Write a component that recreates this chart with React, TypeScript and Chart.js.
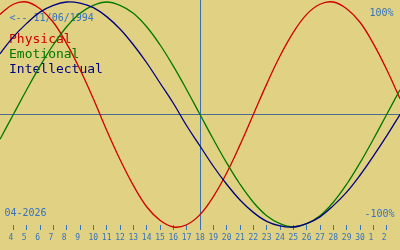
import React, { useEffect, useRef } from 'react';
import { Chart, registerables } from 'chart.js';

Chart.register(...registerables);

// Days of April 2026 shown (31 = May 1, 32 = May 2, 33 = May 3)
const days = [3, 4, 5, 6, 7, 8, 9, 10, 11, 12, 13, 14, 15, 16, 17, 18, 19, 20, 21, 22, 23, 24, 25, 26, 27, 28, 29, 30, 31, 32, 33];

const physical = [0.89, 0.98, 1.0, 0.94, 0.82, 0.63, 0.4, 0.14, -0.14, -0.4, -0.63, -0.82, -0.94, -1.0, -0.98, -0.89, -0.73, -0.52, -0.27, 0, 0.27, 0.52, 0.73, 0.89, 0.98, 1.0, 0.94, 0.82, 0.63, 0.4, 0.14];
const emotional = [-0.22, 0, 0.22, 0.43, 0.62, 0.78, 0.9, 0.97, 1.0, 0.97, 0.9, 0.78, 0.62, 0.43, 0.22, 0, -0.22, -0.43, -0.62, -0.78, -0.9, -0.97, -1.0, -0.97, -0.9, -0.78, -0.62, -0.43, -0.22, 0, 0.22];
const intellectual = [0.54, 0.69, 0.81, 0.91, 0.97, 1.0, 0.99, 0.95, 0.87, 0.76, 0.62, 0.46, 0.28, 0.1, -0.1, -0.28, -0.46, -0.62, -0.76, -0.87, -0.95, -0.99, -1.0, -0.97, -0.91, -0.81, -0.69, -0.54, -0.37, -0.19, 0];

const tickDays = [4, 5, 6, 7, 8, 9, 10, 11, 12, 13, 14, 15, 16, 17, 18, 19, 20, 21, 22, 23, 24, 25, 26, 27, 28, 29, 30, 31, 32];
const tickLabels = ['4', '5', '6', '7', '8', '9', '10', '11', '12', '13', '14', '15', '16', '17', '18', '19', '20', '21', '22', '23', '24', '25', '26', '27', '28', '29', '30', '1', '2'];

const seriesNames = ['Physical', 'Emotional', 'Intellectual'];
const seriesColors = ['#d00000', '#007800', '#000080'];

const todayDay = 18;
const birthLabel = '<-- 11/06/1994';
const monthLabel = '04-2026';
const maxLabel = '100%';
const minLabel = '-100%';

const BG = '#e0d282';
const BLUE = '#3572c0';
const TODAY_COLOR = '#3a6eb0';
const ZERO_COLOR = '#4b6a8c';
const MONO = '"DejaVu Sans Mono", "Liberation Mono", monospace';

const textPlugin = {
  id: 'bioText',
  beforeDatasetsDraw(chart: any) {
    const ctx = chart.ctx;
    ctx.save();
    ctx.textBaseline = 'alphabetic';
    ctx.font = `10px ${MONO}`;
    ctx.fillStyle = BLUE;
    ctx.textAlign = 'left';
    ctx.fillText(birthLabel, 9.5, 20.5);
    ctx.fillText(monthLabel, 4.5, 216);
    ctx.textAlign = 'right';
    ctx.fillText(maxLabel, 393.5, 16);
    ctx.fillText(minLabel, 394.5, 217);
    ctx.font = `13px ${MONO}`;
    ctx.textAlign = 'left';
    chart.data.datasets.forEach((ds: any, i: number) => {
      ctx.fillStyle = ds.borderColor;
      ctx.fillText(ds.label, 9, 42.5 + i * 15.25);
    });
    ctx.restore();
  },
};

export default function App() {
  const ref = useRef<HTMLCanvasElement | null>(null);

  useEffect(() => {
    if (!ref.current) return;
    const series = [physical, emotional, intellectual];
    const chart = new Chart(ref.current, {
      type: 'line',
      data: {
        datasets: series.map((vals, i) => ({
          label: seriesNames[i],
          data: days.map((d, j) => ({ x: d, y: vals[j] })),
          borderColor: seriesColors[i],
          backgroundColor: seriesColors[i],
          borderWidth: 1.3,
          pointRadius: 0,
          tension: 0.4,
          fill: false,
          clip: false as any,
          order: 3 - i,
        })),
      },
      options: {
        animation: false,
        responsive: false,
        devicePixelRatio: 1,
        layout: { padding: 0 },
        plugins: {
          legend: { display: false },
          tooltip: { enabled: false },
        },
        scales: {
          x: {
            type: 'linear',
            min: 3,
            max: 33,
            border: { display: false },
            grid: {
              drawOnChartArea: true,
              drawTicks: true,
              tickLength: 5,
              lineWidth: 1,
              color: (c: any) => (c.tick && c.tick.value === todayDay ? TODAY_COLOR : 'rgba(0,0,0,0)'),
              tickColor: BLUE,
            },
            ticks: {
              autoSkip: false,
              maxRotation: 0,
              minRotation: 0,
              padding: 3,
              color: BLUE,
              font: { family: MONO, size: 8 },
              callback: (_v: any, i: number) => {
                const s = tickLabels[i] ?? '';
                return s.length < 2 ? s + ' ' : s;
              },
            },
            afterBuildTicks: (scale: any) => {
              scale.ticks = tickDays.map((v) => ({ value: v }));
            },
            afterFit: (scale: any) => {
              scale.height = 25;
            },
          },
          y: {
            type: 'linear',
            min: -0.98222,
            max: 1.01778,
            border: { display: false },
            ticks: { display: false },
            grid: {
              drawTicks: false,
              lineWidth: 1,
              color: (c: any) => (c.tick && c.tick.value === 0 ? ZERO_COLOR : 'rgba(0,0,0,0)'),
            },
            afterBuildTicks: (scale: any) => {
              scale.ticks = [{ value: 0 }];
            },
            afterFit: (scale: any) => {
              scale.width = 0;
            },
          },
        },
      },
      plugins: [textPlugin],
    } as any);
    return () => chart.destroy();
  }, []);

  return (
    <div style={{ position: 'absolute', left: 0, top: 0, width: 400, height: 250, background: BG }}>
      <canvas ref={ref} width={400} height={250} style={{ display: 'block' }} />
    </div>
  );
}
